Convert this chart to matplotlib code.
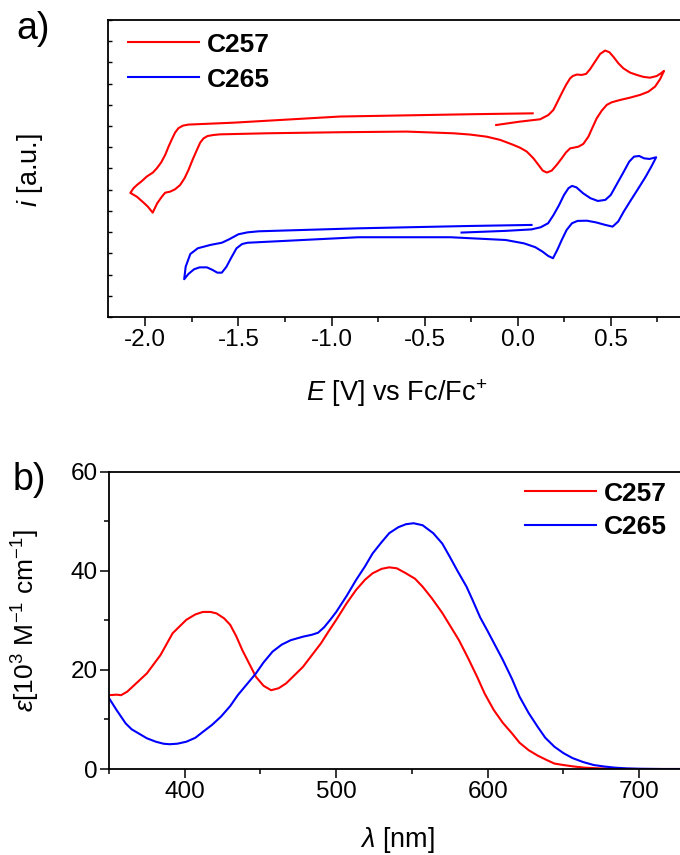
import numpy as np
import matplotlib
matplotlib.use('Agg')
import matplotlib.pyplot as plt
from matplotlib.ticker import MultipleLocator, FormatStrFormatter

plt.rcParams['font.family'] = ['Liberation Sans', 'DejaVu Sans']
plt.rcParams['mathtext.fontset'] = 'custom'
plt.rcParams['mathtext.rm'] = 'Liberation Sans'
plt.rcParams['mathtext.it'] = 'Liberation Sans:italic'
plt.rcParams['mathtext.bf'] = 'Liberation Sans:bold'
plt.rcParams['axes.unicode_minus'] = False

# ---------------- data: cyclic voltammograms (E in V vs Fc/Fc+, i in a.u.) -------------
cv_c257_E = [-0.116, 0.012, 0.120, 0.164, 0.191, 0.209, 0.236, 0.259, 0.281, 0.295,
             0.317, 0.343, 0.367, 0.388, 0.415, 0.442, 0.469, 0.492, 0.513, 0.540,
             0.567, 0.603, 0.639, 0.674, 0.710, 0.746, 0.769, 0.785,
             0.764, 0.737, 0.701, 0.657, 0.603, 0.549, 0.504, 0.478, 0.451, 0.424,
             0.401, 0.379, 0.352, 0.326, 0.299, 0.281, 0.258, 0.236, 0.209, 0.182,
             0.156, 0.134, 0.111, 0.084, 0.048, 0.012, -0.023, -0.095, -0.167, -0.256,
             -0.346, -0.596, -0.954, -1.347, -1.598, -1.634, -1.666, -1.687, -1.705, -1.723,
             -1.745, -1.768, -1.789, -1.813, -1.840, -1.866, -1.893, -1.911, -1.936, -1.960,
             -1.986, -2.005, -2.045, -2.080,
             -2.063, -2.045, -2.018, -1.992, -1.959, -1.938, -1.915, -1.893, -1.875, -1.857,
             -1.840, -1.822, -1.798, -1.768, -1.526, -0.954, -0.238, 0.080]
cv_c257_i = [9.05, 9.21, 9.32, 9.52, 9.76, 10.07, 10.55, 10.94, 11.25, 11.36,
             11.43, 11.41, 11.46, 11.68, 12.04, 12.40, 12.56, 12.48, 12.27, 11.96,
             11.72, 11.52, 11.41, 11.32, 11.28, 11.36, 11.49, 11.60,
             11.21, 10.86, 10.62, 10.47, 10.34, 10.23, 10.12, 10.00, 9.73, 9.37,
             8.93, 8.50, 8.16, 8.03, 7.98, 7.95, 7.75, 7.48, 7.17, 6.90,
             6.81, 6.90, 7.17, 7.48, 7.80, 7.98, 8.11, 8.35, 8.50, 8.60,
             8.66, 8.74, 8.71, 8.66, 8.61, 8.58, 8.53, 8.42, 8.22, 7.87,
             7.43, 6.93, 6.54, 6.22, 6.02, 5.91, 5.86, 5.67, 5.36, 4.92,
             5.20, 5.36, 5.67, 5.85,
             6.07, 6.22, 6.41, 6.62, 6.81, 7.01, 7.28, 7.64, 8.03, 8.38,
             8.69, 8.90, 9.02, 9.07, 9.16, 9.45, 9.56, 9.60]

cv_c265_E = [-0.302, -0.065, 0.074, 0.123, 0.163, 0.192, 0.222, 0.248, 0.272, 0.291,
             0.315, 0.351, 0.390, 0.430, 0.470, 0.499, 0.529, 0.569, 0.598, 0.624,
             0.652, 0.678, 0.707, 0.743,
             0.717, 0.687, 0.648, 0.608, 0.569, 0.539, 0.509, 0.470, 0.420, 0.371,
             0.321, 0.291, 0.262, 0.236, 0.212, 0.189, 0.163, 0.133, 0.094, 0.034,
             -0.065, -0.362, -0.857, -1.451, -1.480, -1.510, -1.540, -1.564, -1.589, -1.613,
             -1.639, -1.669, -1.708, -1.738, -1.768, -1.791,
             -1.783, -1.758, -1.718, -1.649, -1.589, -1.550, -1.500, -1.451, -1.391, -0.857,
             -0.263, 0.074]
cv_c265_i = [3.98, 4.06, 4.13, 4.23, 4.42, 4.81, 5.28, 5.75, 6.07, 6.18,
             6.11, 5.83, 5.60, 5.47, 5.52, 5.75, 6.22, 6.85, 7.32, 7.56,
             7.59, 7.48, 7.45, 7.53,
             7.09, 6.62, 6.07, 5.52, 4.97, 4.50, 4.26, 4.34, 4.46, 4.54,
             4.53, 4.42, 4.10, 3.63, 3.16, 2.77, 2.88, 3.08, 3.29, 3.47,
             3.63, 3.76, 3.76, 3.50, 3.44, 3.24, 2.77, 2.37, 2.09, 2.09,
             2.22, 2.34, 2.34, 2.25, 2.03, 1.78,
             2.37, 2.97, 3.24, 3.40, 3.50, 3.66, 3.90, 3.99, 4.04, 4.18,
             4.29, 4.34]

# ---------------- data: absorption spectra (nm, 10^3 M^-1 cm^-1) -------------
abs_c257_nm = [350, 355, 358, 362, 368, 375, 384, 392, 401, 407, 412, 417, 421, 426, 430,
               434, 438, 443, 447, 452, 457, 462, 467, 472, 478, 484, 490, 495, 500, 507,
               513, 519, 524, 530, 535, 540, 546, 552, 557, 563, 570, 576, 581, 587, 593,
               598, 604, 610, 616, 621, 627, 633, 639, 644, 650, 657, 664, 674, 684, 700, 730]
abs_c257_eps = [14.9, 15.0, 14.9, 15.6, 17.3, 19.3, 23.0, 27.4, 30.1, 31.2, 31.7, 31.7, 31.4, 30.4, 29.1,
                26.8, 24.0, 21.0, 18.6, 16.8, 15.9, 16.3, 17.3, 18.8, 20.6, 23.0, 25.4, 27.8, 30.1, 33.5,
                36.1, 38.2, 39.5, 40.4, 40.7, 40.5, 39.5, 38.4, 36.8, 34.5, 31.5, 28.5, 26.0, 22.4, 18.6,
                15.2, 11.9, 9.3, 7.2, 5.3, 3.8, 2.7, 1.8, 1.1, 0.8, 0.5, 0.27, 0.12, 0.05, 0.0, 0.0]

abs_c265_nm = [350, 355, 361, 365, 370, 375, 381, 386, 390, 395, 401, 407, 412, 418, 424,
               430, 435, 441, 447, 452, 458, 464, 470, 478, 484, 488, 492, 496, 500, 507,
               513, 519, 524, 530, 535, 541, 546, 551, 557, 564, 570, 575, 580, 586, 590,
               595, 600, 605, 610, 616, 621, 627, 633, 638, 644, 650, 656, 663, 670, 677,
               684, 692, 701, 715, 730]
abs_c265_eps = [14.3, 11.9, 9.2, 8.0, 7.1, 6.2, 5.5, 5.1, 5.0, 5.1, 5.5, 6.3, 7.5, 8.9, 10.6,
                12.7, 14.9, 17.1, 19.3, 21.5, 23.7, 25.1, 26.0, 26.7, 27.1, 27.5, 28.6, 30.1, 31.7, 35.0,
                38.1, 40.9, 43.5, 45.8, 47.6, 48.8, 49.4, 49.6, 49.2, 47.6, 45.5, 42.8, 40.0, 36.8, 34.1,
                30.6, 27.8, 24.9, 22.0, 18.2, 14.6, 11.3, 8.5, 6.3, 4.5, 3.2, 2.2, 1.4, 0.8, 0.5,
                0.27, 0.12, 0.05, 0.0, 0.0]

series_names = ['C257', 'C265']
series_colors = ['#ff0000', '#0000ff']

# ---------------- layout -------------
W, H = 680, 855
fig = plt.figure(figsize=(W / 100, H / 100), dpi=100)


def rect(l, t, r, b):
    return [l / W, 1 - b / H, (r - l) / W, (b - t) / H]


TICK_FS = 17.5
LABEL_FS = 19.5
LEG_FS = 19
LW = 1.5

# ---- panel a
ax1 = fig.add_axes(rect(108, 20, 683, 317))
ax1.plot(cv_c257_E, cv_c257_i, color=series_colors[0], lw=LW, label=series_names[0],
         solid_joinstyle='round')
ax1.plot(cv_c265_E, cv_c265_i, color=series_colors[1], lw=LW, label=series_names[1],
         solid_joinstyle='round')
ax1.set_xlim(-2.2, 0.887)
ax1.set_ylim(0, 14)
ax1.xaxis.set_major_locator(MultipleLocator(0.5))
ax1.xaxis.set_minor_locator(MultipleLocator(0.25))
ax1.set_yticks(np.arange(0, 15, 1))
ax1.tick_params(axis='y', which='both', direction='in', length=3, width=1, labelleft=False)
ax1.tick_params(axis='x', which='major', direction='out', length=6.3, width=1.1,
                labelsize=TICK_FS, pad=2)
ax1.tick_params(axis='x', which='minor', direction='out', length=3.8, width=1.1)
ax1.xaxis.set_major_formatter(FormatStrFormatter('%.1f'))
for s in ax1.spines.values():
    s.set_linewidth(1.3)

ax1.legend(loc='upper left', bbox_to_anchor=(128 / W, 1 - 32.6 / H),
           bbox_transform=fig.transFigure, frameon=False, borderpad=0,
           borderaxespad=0, handlelength=2.69, handletextpad=0.3,
           labelspacing=0.415, prop={'weight': 'bold', 'size': LEG_FS})

fig.text(397 / W, 1 - 401 / H, r'$\mathit{E}$ [V] vs Fc/Fc$^{+}$', ha='center',
         va='baseline', fontsize=LABEL_FS)
fig.text(30 / W, 1 - 170 / H, r'$\mathit{i}$ [a.u.]', ha='center', va='center',
         rotation=90, fontsize=LABEL_FS)
fig.text(16 / W, 1 - 11 / H, 'a)', ha='left', va='top', fontsize=27)

# ---- panel b
ax2 = fig.add_axes(rect(109, 471.7, 683, 769))
ax2.plot(abs_c257_nm, abs_c257_eps, color=series_colors[0], lw=LW, label=series_names[0])
ax2.plot(abs_c265_nm, abs_c265_eps, color=series_colors[1], lw=LW, label=series_names[1])
ax2.set_xlim(350, 728.9)
ax2.set_ylim(0, 60)
ax2.xaxis.set_major_locator(MultipleLocator(100))
ax2.xaxis.set_minor_locator(MultipleLocator(50))
ax2.yaxis.set_major_locator(MultipleLocator(20))
ax2.yaxis.set_minor_locator(MultipleLocator(10))
ax2.tick_params(which='major', direction='out', length=6.3, width=1.1,
                labelsize=TICK_FS, pad=2)
ax2.tick_params(which='minor', direction='out', length=3.8, width=1.1)
for s in ax2.spines.values():
    s.set_linewidth(1.3)

ax2.legend(loc='upper left', bbox_to_anchor=(525 / W, 1 - 481.7 / H),
           bbox_transform=fig.transFigure, frameon=False, borderpad=0,
           borderaxespad=0, handlelength=2.69, handletextpad=0.3,
           labelspacing=0.35, prop={'weight': 'bold', 'size': LEG_FS})

fig.text(397 / W, 1 - 847 / H, r'$\mathit{λ}$ [nm]', ha='center', va='baseline',
         fontsize=LABEL_FS)
fig.text(26 / W, 1 - 621 / H, r'$\mathit{ε}$[10$^{3}$ M$^{-1}$ cm$^{-1}$]', ha='center',
         va='center', rotation=90, fontsize=19)
fig.text(13 / W, 1 - 462 / H, 'b)', ha='left', va='top', fontsize=27)

fig.savefig('out.png', dpi=100)
